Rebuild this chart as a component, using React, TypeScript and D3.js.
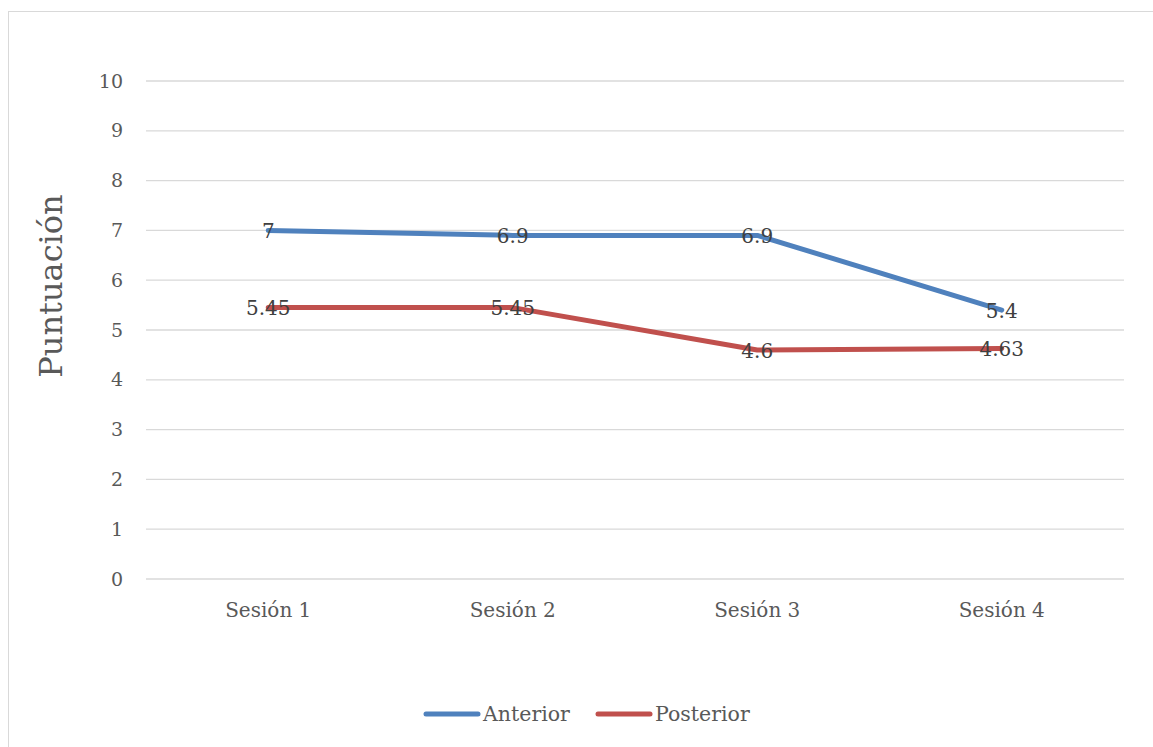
import React, { useRef, useEffect } from 'react';
import * as d3 from 'd3';

const categories = ['Sesión 1', 'Sesión 2', 'Sesión 3', 'Sesión 4'];
const anterior = [7, 6.9, 6.9, 5.4];
const posterior = [5.45, 5.45, 4.6, 4.63];
const yTicks = [0, 1, 2, 3, 4, 5, 6, 7, 8, 9, 10];

const series = [
    { name: 'Anterior', values: anterior, color: '#4F81BD' },
    { name: 'Posterior', values: posterior, color: '#C0504D' },
];

const W = 1153;
const H = 747;
const FONT = '"DejaVu Serif", serif';

const App: React.FC = () => {
    const ref = useRef<SVGSVGElement | null>(null);

    useEffect(() => {
        const svg = d3.select(ref.current);
        svg.selectAll('*').remove();

        // chart frame
        svg.append('rect')
            .attr('x', 8.5).attr('y', 11.5)
            .attr('width', W + 20).attr('height', H + 20)
            .attr('fill', '#fff')
            .attr('stroke', '#d9d9d9')
            .attr('stroke-width', 1);

        const x = d3.scaleBand<string>().domain(categories).range([146, 1124]);
        const y = d3.scaleLinear().domain([0, 10]).range([579, 81]);
        const cx = (c: string) => (x(c) ?? 0) + x.bandwidth() / 2;

        const grid = svg.append('g');
        grid.selectAll('line')
            .data(yTicks)
            .enter()
            .append('line')
            .attr('x1', 146).attr('x2', 1124)
            .attr('y1', (d) => y(d)).attr('y2', (d) => y(d))
            .attr('stroke', '#d9d9d9')
            .attr('stroke-width', 1.3);

        svg.append('g').selectAll('text')
            .data(yTicks)
            .enter()
            .append('text')
            .attr('x', 123)
            .attr('y', (d) => y(d))
            .attr('dy', '0.35em')
            .attr('text-anchor', 'end')
            .style('font-family', FONT)
            .style('font-size', '19px')
            .attr('fill', '#595959')
            .text((d) => d);

        svg.append('g').selectAll('text')
            .data(categories)
            .enter()
            .append('text')
            .attr('x', (d) => cx(d))
            .attr('y', 617)
            .attr('text-anchor', 'middle')
            .style('font-family', FONT)
            .style('font-size', '20px')
            .attr('fill', '#595959')
            .text((d) => d);

        svg.append('text')
            .attr('transform', `translate(62, ${y(5) - 44}) rotate(-90)`)
            .attr('text-anchor', 'middle')
            .style('font-family', FONT)
            .style('font-size', '32px')
            .attr('fill', '#595959')
            .text('Puntuación');

        const line = d3.line<number>()
            .x((_, i) => cx(categories[i]))
            .y((d) => y(d));

        series.forEach((s) => {
            svg.append('path')
                .datum(s.values)
                .attr('d', line)
                .attr('fill', 'none')
                .attr('stroke', s.color)
                .attr('stroke-width', 5)
                .attr('stroke-linecap', 'round')
                .attr('stroke-linejoin', 'round');
        });

        series.forEach((s) => {
            svg.append('g').selectAll('text')
                .data(s.values)
                .enter()
                .append('text')
                .attr('x', (_, i) => cx(categories[i]))
                .attr('y', (d) => y(d))
                .attr('dy', '0.38em')
                .attr('text-anchor', 'middle')
                .style('font-family', FONT)
                .style('font-size', '20px')
                .attr('fill', '#404040')
                .text((d) => d);
        });

        // legend
        const legend = svg.append('g');
        const items = [
            { ...series[0], lx: 426 },
            { ...series[1], lx: 598 },
        ];
        items.forEach((it) => {
            legend.append('line')
                .attr('x1', it.lx).attr('x2', it.lx + 52)
                .attr('y1', 714).attr('y2', 714)
                .attr('stroke', it.color)
                .attr('stroke-width', 5)
                .attr('stroke-linecap', 'round');
            legend.append('text')
                .attr('x', it.lx + 57)
                .attr('y', 714)
                .attr('dy', '0.35em')
                .style('font-family', FONT)
                .style('font-size', '20.5px')
                .attr('fill', '#595959')
                .text(it.name);
        });
    }, []);

    return (
        <svg ref={ref} width={W} height={H}
            style={{ position: 'absolute', left: 0, top: 0 }} />
    );
};

export default App;
